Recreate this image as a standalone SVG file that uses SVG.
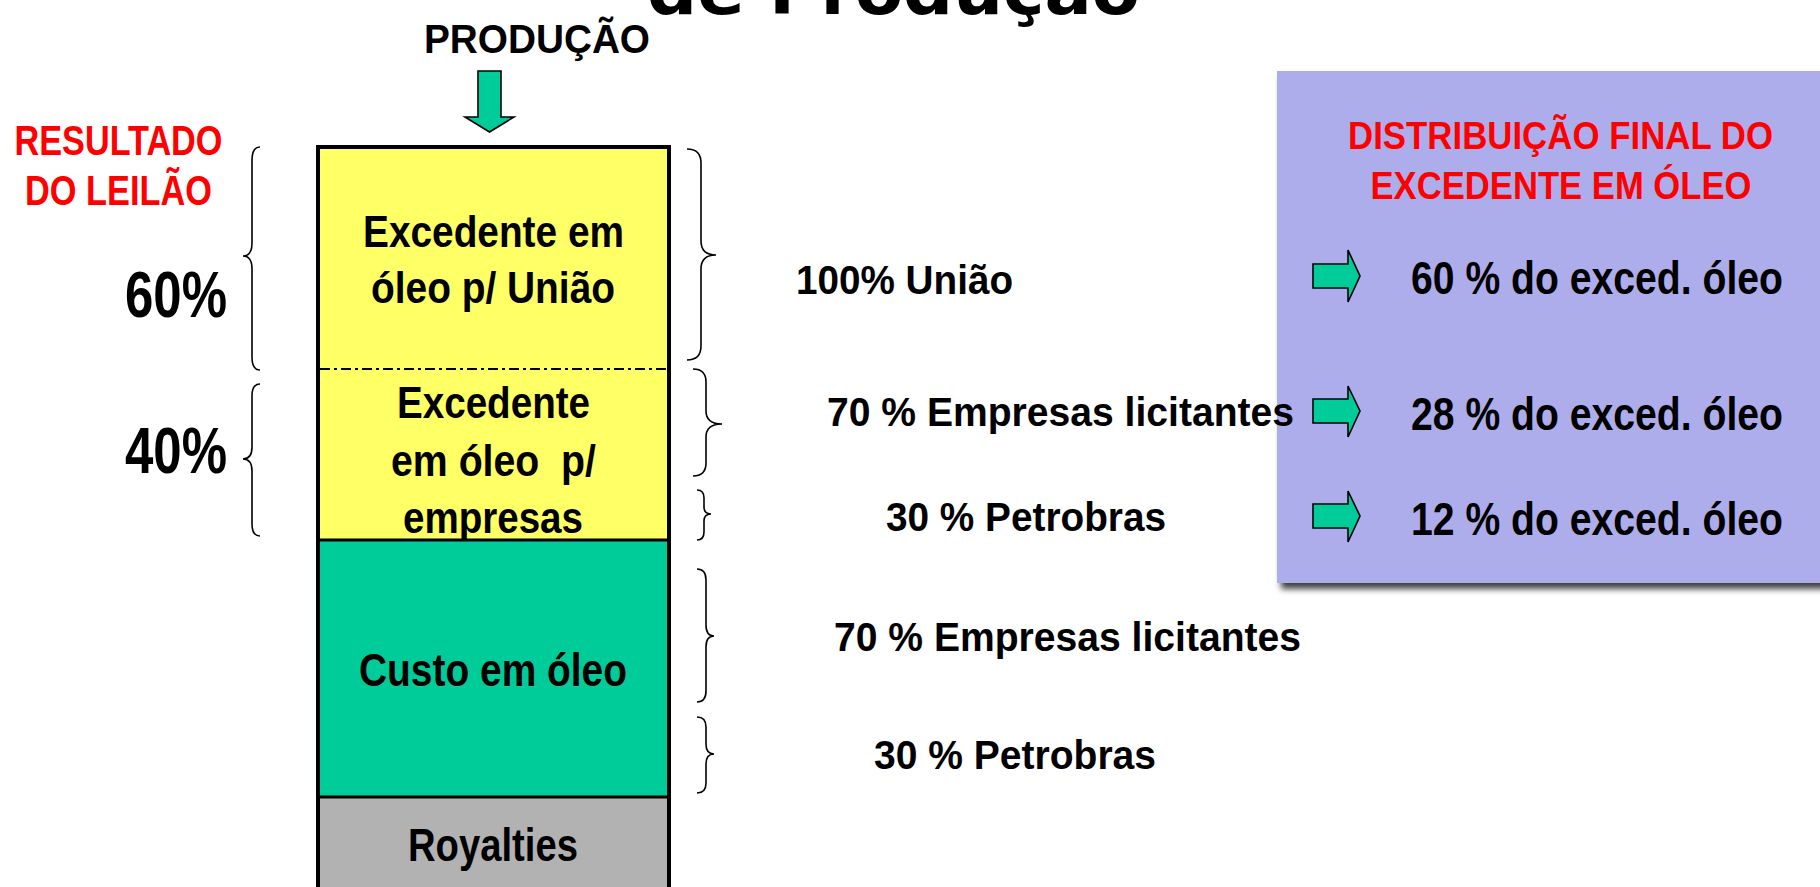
<svg xmlns="http://www.w3.org/2000/svg" width="1820" height="887" viewBox="0 0 1820 887">
<defs>
<style>
text{font-family:"Liberation Sans",Arial,sans-serif;font-weight:bold;fill:#000}
.red{fill:#FF0000}
.brace{fill:none;stroke:#000;stroke-width:1.6}
.garrow{fill:#00CC99;stroke:#000;stroke-width:1.6;stroke-linejoin:miter}
</style>
<filter id="shadow" x="-5%" y="-5%" width="115%" height="115%">
<feDropShadow dx="4" dy="6" stdDeviation="3" flood-color="#000" flood-opacity="0.75"/>
</filter>
</defs>
<rect width="1820" height="887" fill="#fff"/>

<g id="title">
<text x="647" y="14" style="font-family:'DejaVu Sans',sans-serif" font-size="66" textLength="493" lengthAdjust="spacingAndGlyphs">de Produção</text>
</g>

<g id="producao">
<text x="424" y="53" font-size="40" textLength="226" lengthAdjust="spacingAndGlyphs">PRODUÇÃO</text>
<polygon class="garrow" points="478,71 501,71 501,117 514,117 489.5,132 465,117 478,117"/>
</g>

<g id="resultado">
<text class="red" x="118.5" y="155" font-size="42" text-anchor="middle" textLength="208" lengthAdjust="spacingAndGlyphs">RESULTADO</text>
<text class="red" x="118.5" y="205" font-size="42" text-anchor="middle" textLength="187" lengthAdjust="spacingAndGlyphs">DO LEILÃO</text>
</g>

<g id="pct60">
<text x="125" y="317" font-size="65" textLength="102" lengthAdjust="spacingAndGlyphs">60%</text>
<path class="brace" d="M260,147 Q252,147 252,160 L252,243 Q252,256 243,256 Q252,256 252,269 L252,357 Q252,370 260,370"/>
</g>

<g id="pct40">
<text x="125" y="473" font-size="65" textLength="102" lengthAdjust="spacingAndGlyphs">40%</text>
<path class="brace" d="M260,384 Q252,384 252,396 L252,447 Q252,459 243,459 Q252,459 252,471 L252,524 Q252,536 260,536"/>
</g>

<g id="column">
<rect x="318" y="147" width="351" height="393" fill="#FFFF66"/>
<line x1="320" y1="369" x2="667" y2="369" stroke="#000" stroke-width="2" stroke-dasharray="10 4 3 4"/>
<g id="excedente-uniao">
<text x="493.5" y="247" font-size="44" text-anchor="middle" textLength="261" lengthAdjust="spacingAndGlyphs">Excedente em</text>
<text x="493" y="303" font-size="44" text-anchor="middle" textLength="244" lengthAdjust="spacingAndGlyphs">óleo p/ União</text>
</g>
<g id="excedente-empresas">
<text x="493.5" y="418" font-size="44" text-anchor="middle" textLength="193" lengthAdjust="spacingAndGlyphs">Excedente</text>
<text x="493.5" y="476" font-size="44" text-anchor="middle" textLength="205" lengthAdjust="spacingAndGlyphs" xml:space="preserve">em óleo  p/</text>
<text x="493" y="533" font-size="44" text-anchor="middle" textLength="180" lengthAdjust="spacingAndGlyphs">empresas</text>
</g>
<g id="custo">
<rect x="318" y="540" width="351" height="257" fill="#00CC99"/>
<text x="493" y="686" font-size="46" text-anchor="middle" textLength="268" lengthAdjust="spacingAndGlyphs">Custo em óleo</text>
</g>
<g id="royalties">
<rect x="318" y="797" width="351" height="100" fill="#B2B2B2"/>
<text x="493" y="861" font-size="46" text-anchor="middle" textLength="170" lengthAdjust="spacingAndGlyphs">Royalties</text>
</g>
<line x1="318" y1="540" x2="669" y2="540" stroke="#000" stroke-width="3"/>
<line x1="318" y1="797" x2="669" y2="797" stroke="#000" stroke-width="3"/>
<rect x="318" y="147" width="351" height="760" fill="none" stroke="#000" stroke-width="4"/>
</g>

<g id="final-box">
<rect x="1277" y="71" width="580" height="512" fill="#ADADEB" filter="url(#shadow)"/>
<text class="red" x="1560.5" y="149" font-size="38" text-anchor="middle" textLength="425" lengthAdjust="spacingAndGlyphs">DISTRIBUIÇÃO FINAL DO</text>
<text class="red" x="1561" y="199" font-size="38" text-anchor="middle" textLength="381" lengthAdjust="spacingAndGlyphs">EXCEDENTE EM ÓLEO</text>
</g>

<g id="right-braces">
<g id="uniao">
<path class="brace" d="M687,149 Q701,149 701,163 L701,241 Q701,255 716,255 Q701,255 701,269 L701,346 Q701,360 687,360"/>
<text x="796" y="294" font-size="40" textLength="217" lengthAdjust="spacingAndGlyphs">100% União</text>
</g>
<g id="exc-licitantes">
<path class="brace" d="M693,369 Q706,369 706,382 L706,411 Q706,424 722,424 Q706,424 706,437 L706,463 Q706,476 693,476"/>
<text x="827" y="426" font-size="40" textLength="467" lengthAdjust="spacingAndGlyphs">70 % Empresas licitantes</text>
</g>
<g id="exc-petrobras">
<path class="brace" d="M697,490 Q704,490 704,498 L704,507 Q704,514 711,514 Q704,514 704,521 L704,532 Q704,540 697,540"/>
<text x="886" y="531" font-size="40" textLength="280" lengthAdjust="spacingAndGlyphs">30 % Petrobras</text>
</g>
<g id="custo-licitantes">
<path class="brace" d="M697,569 Q706,569 706,580 L706,625 Q706,636 714,636 Q706,636 706,647 L706,691 Q706,702 697,702"/>
<text x="834" y="651" font-size="40" textLength="467" lengthAdjust="spacingAndGlyphs">70 % Empresas licitantes</text>
</g>
<g id="custo-petrobras">
<path class="brace" d="M697,717 Q706,717 706,727 L706,744 Q706,754 714,754 Q706,754 706,764 L706,783 Q706,793 697,793"/>
<text x="874" y="769" font-size="40" textLength="282" lengthAdjust="spacingAndGlyphs">30 % Petrobras</text>
</g>
</g>

<g id="final-rows">
<g id="row60">
<polygon class="garrow" points="1313,264 1348,264 1348,250 1360,276 1348,302 1348,288 1313,288"/>
<text x="1411" y="294" font-size="46" textLength="372" lengthAdjust="spacingAndGlyphs">60 % do exced. óleo</text>
</g>
<g id="row28">
<polygon class="garrow" points="1313,399 1348,399 1348,386 1360,411 1348,437 1348,423 1313,423"/>
<text x="1411" y="430" font-size="46" textLength="372" lengthAdjust="spacingAndGlyphs">28 % do exced. óleo</text>
</g>
<g id="row12">
<polygon class="garrow" points="1313,504 1348,504 1348,491 1360,516 1348,542 1348,528 1313,528"/>
<text x="1411" y="535" font-size="46" textLength="372" lengthAdjust="spacingAndGlyphs">12 % do exced. óleo</text>
</g>
</g>
</svg>
